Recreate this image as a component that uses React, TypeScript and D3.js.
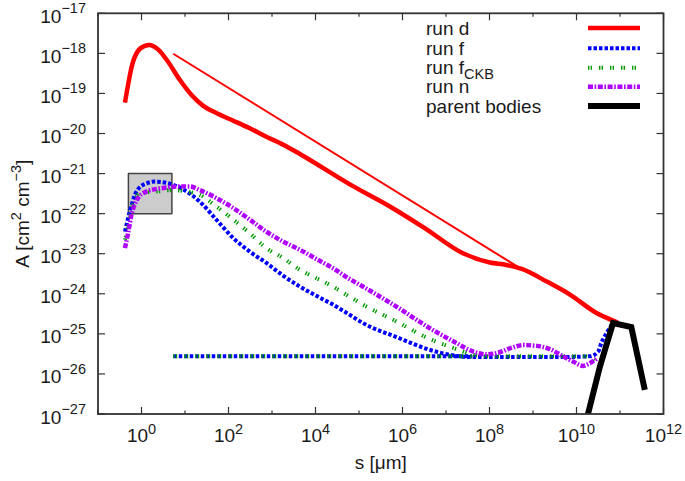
import React from "react";
import * as d3 from "d3";

const W = 685;
const H = 481;
const PL = 98, PR = 663.5, PT = 13.3, PB = 414;

// values, as log10(s [µm]) and log10(A [cm^2 cm^-3])
const runDLogS = [-0.38, -0.21, -0.02, 0.175, 0.38, 0.61, 0.88, 1.15, 1.42, 1.72, 2.11, 2.49, 2.87, 3.26, 3.64, 4.84, 5.71, 6.51, 7.39, 8.01, 8.39, 8.74, 9.31, 9.85, 10.46, 10.84, 10.95];
const runDLogA = [-19.23, -18.27, -17.87, -17.79, -17.9, -18.21, -18.66, -19.04, -19.31, -19.49, -19.68, -19.87, -20.08, -20.28, -20.51, -21.3, -21.82, -22.36, -22.99, -23.22, -23.28, -23.38, -23.69, -24.02, -24.48, -24.67, -24.72];

const slopeLogS = [0.73, 8.7];
const slopeLogA = [-18.01, -23.36];

const runFLogS = [-0.38, -0.28, -0.15, 0.04, 0.31, 0.61, 0.95, 1.34, 1.72, 2.11, 2.49, 2.87, 3.26, 3.64, 4.02, 4.4, 4.75, 5.09, 5.86, 6.63, 7.24, 7.6, 8.5, 9.5, 10.3, 10.5, 10.57, 10.67, 10.84];
const runFLogA = [-22.45, -21.99, -21.53, -21.28, -21.2, -21.24, -21.39, -21.7, -22.15, -22.61, -22.95, -23.23, -23.55, -23.82, -24.05, -24.27, -24.5, -24.73, -25.08, -25.4, -25.55, -25.58, -25.58, -25.58, -25.56, -25.44, -25.23, -25.02, -24.73];

const runCKBLogS = [-0.38, -0.31, -0.23, -0.15, -0.04, 0.34, 0.73, 1.03, 1.34, 1.72, 2.11, 2.49, 2.87, 3.26, 3.64, 4.02, 4.4, 4.75, 5.09, 5.86, 6.63, 7.16, 7.39, 7.62, 8.0, 9.0, 10.2, 10.42];
const runCKBLogA = [-22.65, -22.32, -21.9, -21.66, -21.49, -21.45, -21.41, -21.45, -21.53, -21.82, -22.15, -22.49, -22.86, -23.11, -23.4, -23.61, -23.82, -24.05, -24.27, -24.69, -25.13, -25.35, -25.44, -25.52, -25.56, -25.56, -25.56, -25.7];

const runNLogS = [-0.38, -0.31, -0.23, -0.11, 0.11, 0.5, 0.88, 1.11, 1.34, 1.72, 2.11, 2.49, 2.87, 3.26, 3.64, 4.02, 4.4, 4.75, 5.09, 5.86, 6.63, 7.24, 7.62, 7.93, 8.2, 8.5, 8.77, 9.08, 9.39, 9.69, 9.92, 10.15, 10.31, 10.46];
const runNLogA = [-22.86, -22.49, -22.03, -21.66, -21.45, -21.36, -21.32, -21.32, -21.41, -21.61, -21.86, -22.15, -22.45, -22.7, -22.9, -23.13, -23.36, -23.61, -23.82, -24.32, -24.86, -25.23, -25.44, -25.51, -25.47, -25.35, -25.28, -25.3, -25.38, -25.56, -25.69, -25.8, -25.73, -25.62];

const floorLogS = [0.73, 7.6];
const floorLogA = [-25.56, -25.56];

const parentLogS = [10.0, 10.54, 10.84, 11.26, 11.57];
const parentLogA = [-28.14, -25.81, -24.73, -24.83, -26.4];

const boxS = [0.5, 5];
const boxA = [1e-22, 1e-21];

const xTickExps = [-1, 0, 1, 2, 3, 4, 5, 6, 7, 8, 9, 10, 11, 12];
const xLabelExps = ["0", "2", "4", "6", "8", "10", "12"];
const yTickExps = ["−17", "−18", "−19", "−20", "−21", "−22", "−23", "−24", "−25", "−26", "−27"];

const legendLabels = ["run d", "run f", "run f", "run n", "parent bodies"];

const FONT = "'Liberation Sans', Arial, Helvetica, sans-serif";

export default function App() {
  const x = d3.scaleLog().domain([1e-1, 1e12]).range([PL, PR]);
  const y = d3.scaleLog().domain([1e-27, 1e-17]).range([PB, PT]);

  const pts = (ls: number[], la: number[]) => ls.map((s, i) => [Math.pow(10, s), Math.pow(10, la[i])] as [number, number]);
  const smooth = d3.line<[number, number]>().x((d) => x(d[0])).y((d) => y(d[1])).curve(d3.curveMonotoneX);
  const straight = d3.line<[number, number]>().x((d) => x(d[0])).y((d) => y(d[1]));

  const red = "#ff0000";
  const blue = "#0000ff";
  const green = "#009a00";
  const violet = "#b000ff";

  const styles = {
    d: { stroke: red, strokeWidth: 4.5, dash: undefined as string | undefined },
    f: { stroke: blue, strokeWidth: 4, dash: "3.5 2" },
    ckb: { stroke: green, strokeWidth: 4, dash: "1.4 1.2 1.4 7" },
    n: { stroke: violet, strokeWidth: 4.5, dash: "5 1.6 1.6 1.6" },
    p: { stroke: "#000", strokeWidth: 6, dash: undefined as string | undefined },
  };
  const legendStyles = [styles.d, styles.f, styles.ckb, styles.n, styles.p];
  const legendRows = [28, 48.3, 67.7, 86.7, 106];

  const axisColor = "#333";
  const textColor = "#1a1a1a";
  const FS = 19;
  const SFS = 14.5;

  return (
    <svg width={W} height={H} style={{ position: "absolute", left: 0, top: 0, background: "#fff" }} fontFamily={FONT}>
      <defs>
        <clipPath id="plot">
          <rect x={PL} y={PT} width={PR - PL} height={PB - PT} />
        </clipPath>
      </defs>
      <rect x={0} y={0} width={W} height={H} fill="#fff" />

      <g clipPath="url(#plot)" fill="none" strokeLinejoin="round">
        <rect x={x(boxS[0])} y={y(boxA[1])} width={x(boxS[1]) - x(boxS[0])} height={y(boxA[0]) - y(boxA[1])} fill="#cccccc" stroke="#444" strokeWidth={1.5} />
        <path d={smooth(pts(runDLogS, runDLogA)) || ""} stroke={red} strokeWidth={4.5} />
        <path d={straight(pts(slopeLogS, slopeLogA)) || ""} stroke={red} strokeWidth={2} />
        <path d={smooth(pts(runFLogS, runFLogA)) || ""} stroke={blue} strokeWidth={4} strokeDasharray={styles.f.dash} />
        <path d={straight(pts(floorLogS, floorLogA)) || ""} stroke={blue} strokeWidth={4} strokeDasharray={styles.f.dash} />
        <path d={smooth(pts(runCKBLogS, runCKBLogA)) || ""} stroke={green} strokeWidth={4} strokeDasharray={styles.ckb.dash} />
        <path d={straight(pts(floorLogS, floorLogA)) || ""} stroke={green} strokeWidth={4} strokeDasharray={styles.ckb.dash} />
        <path d={smooth(pts(runNLogS, runNLogA)) || ""} stroke={violet} strokeWidth={4.5} strokeDasharray={styles.n.dash} />
        <path d={straight(pts(parentLogS, parentLogA)) || ""} stroke="#000" strokeWidth={6} strokeLinejoin="miter" />
      </g>

      {/* frame */}
      <rect x={PL} y={PT} width={PR - PL} height={PB - PT} fill="none" stroke={axisColor} strokeWidth={1.8} />

      {/* x ticks */}
      {xTickExps.map((e) => {
        const px = x(Math.pow(10, e));
        const len = e % 2 === 0 ? 7 : 3.5;
        return (
          <g key={"xt" + e} stroke={axisColor} strokeWidth={1.2}>
            <line x1={px} x2={px} y1={PB} y2={PB - len} />
            <line x1={px} x2={px} y1={PT} y2={PT + len} />
          </g>
        );
      })}
      {xLabelExps.map((e) => {
        const px = x(Math.pow(10, +e));
        return (
          <text key={"xl" + e} x={px} y={442} textAnchor="middle" fontSize={FS} fill={textColor}>
            10<tspan dy={-8.5} fontSize={SFS}>{e}</tspan>
          </text>
        );
      })}

      {/* y ticks */}
      {yTickExps.map((e) => {
        const v = Math.pow(10, -Number(e.replace("−", "")));
        const py = y(v);
        return (
          <g key={"yt" + e}>
            <line x1={PL} x2={PL + 7} y1={py} y2={py} stroke={axisColor} strokeWidth={1.2} />
            <line x1={PR} x2={PR - 7} y1={py} y2={py} stroke={axisColor} strokeWidth={1.2} />
            <text x={86} y={py + 9.5} textAnchor="end" fontSize={FS} fill={textColor}>
              10<tspan dy={-9.5} fontSize={SFS}>{e}</tspan>
            </text>
          </g>
        );
      })}

      {/* axis titles */}
      <text x={(PL + PR) / 2} y={469} textAnchor="middle" fontSize={FS} fill={textColor}>s [μm]</text>
      <text transform={`translate(28.5, ${(PT + PB) / 2}) rotate(-90)`} textAnchor="middle" fontSize={FS} fill={textColor}>
        A [cm<tspan dy={-8} fontSize={SFS}>2</tspan><tspan dy={8}> cm</tspan><tspan dy={-8} fontSize={SFS}>−3</tspan><tspan dy={8}>]</tspan>
      </text>

      {/* legend */}
      {legendLabels.map((lab, i) => {
        const st = legendStyles[i];
        const ry = legendRows[i];
        return (
          <g key={"lg" + i}>
            <text x={426} y={ry + 6.5} fontSize={FS} fill={textColor}>
              {lab}
              {i === 2 ? <tspan dy={5} fontSize={SFS}>CKB</tspan> : null}
            </text>
            <line x1={588} x2={640} y1={ry} y2={ry} stroke={st.stroke} strokeWidth={st.strokeWidth} strokeDasharray={st.dash} />
          </g>
        );
      })}
    </svg>
  );
}
